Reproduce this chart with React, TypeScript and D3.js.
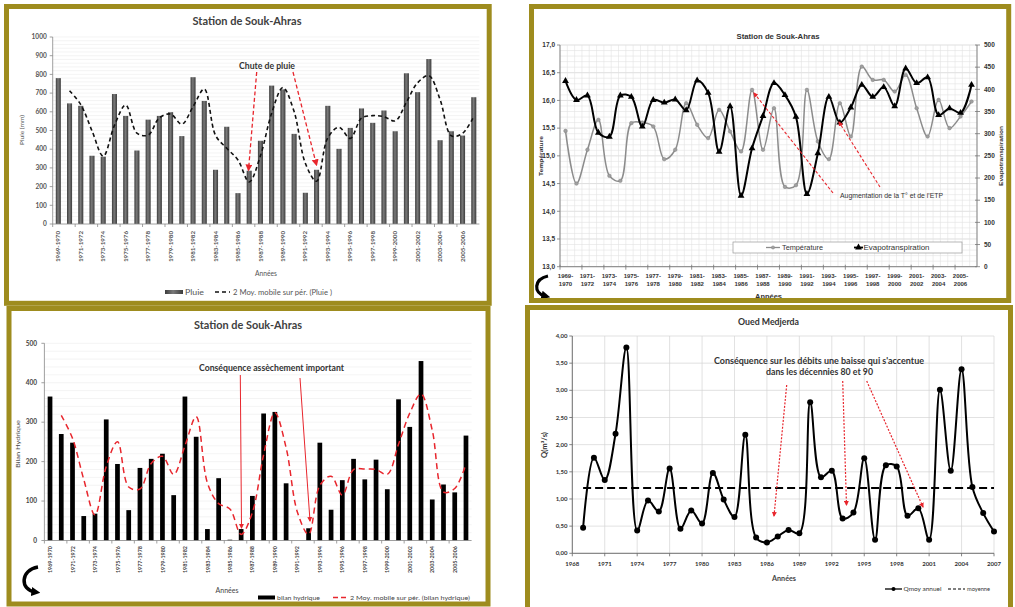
import React from "react";
import * as d3 from "d3";

// ---------- DATA ----------
const seasons = ["1969-1970","1970-1971","1971-1972","1972-1973","1973-1974","1974-1975","1975-1976","1976-1977","1977-1978","1978-1979","1979-1980","1980-1981","1981-1982","1982-1983","1983-1984","1984-1985","1985-1986","1986-1987","1987-1988","1988-1989","1989-1990","1990-1991","1991-1992","1992-1993","1993-1994","1994-1995","1995-1996","1996-1997","1997-1998","1998-1999","1999-2000","2000-2001","2001-2002","2002-2003","2003-2004","2004-2005","2005-2006","2006-2007"];

// Panel 1 : Pluie (mm)
const pluie = [780,645,632,365,360,695,578,393,558,578,598,470,785,658,290,520,165,285,445,740,720,482,167,290,632,402,514,618,541,607,496,806,705,882,448,496,473,678];
const pluieMoy = [null,712.5,638.5,498.5,362.5,527.5,636.5,485.5,475.5,568,588,534,627.5,721.5,474,405,342.5,225,365,592.5,730,601,324.5,228.5,461,517,458,566,579.5,574,551.5,651,755.5,793.5,665,472,484.5,575.5];
const pluieTicks = [0,100,200,300,400,500,600,700,800,900,1000];

// Panel 2 : Température (°C) & Evapotranspiration (mm)
const temperature = [15.45,14.50,15.11,15.65,14.64,14.55,15.59,15.60,15.53,14.94,15.11,15.95,15.56,15.32,15.83,15.44,15.08,16.19,15.11,15.86,14.44,14.47,16.19,15.26,14.94,15.95,15.35,16.61,16.37,16.37,16.16,16.46,15.86,15.35,16.01,15.50,15.71,15.98];
const etp = [419,376,386,302,293,386,383,316,376,370,377,353,420,392,259,362,160,267,340,414,387,338,164,256,383,325,359,410,383,405,362,447,414,427,342,357,347,410];
const tempTicks = [13.0,13.5,14.0,14.5,15.0,15.5,16.0,16.5,17.0];
const etpTicks = [0,50,100,150,200,250,300,350,400,450,500];

// Panel 3 : Bilan hydrique
const bilan = [365,270,248,62,68,307,194,77,184,207,220,115,365,263,29,158,2,29,113,322,326,145,0,31,248,78,153,207,155,205,130,358,288,455,104,142,122,266];
const bilanMoy = [null,317.5,259,155,65,187.5,250.5,135.5,130.5,195.5,213.5,167.5,240,314,146,93.5,80,15.5,71,217.5,324,235.5,72.5,15.5,139.5,163,115.5,180,181,180,167.5,244,323,371.5,279.5,123,132,194];
const bilanTicks = [0,100,200,300,400,500];

// Panel 4 : Oued Medjerda, débits
const qYears = [1969,1970,1971,1972,1973,1974,1975,1976,1977,1978,1979,1980,1981,1982,1983,1984,1985,1986,1987,1988,1989,1990,1991,1992,1993,1994,1995,1996,1997,1998,1999,2000,2001,2002,2003,2004,2005,2006,2007];
const qAnnuel = [0.47,1.76,1.35,2.20,3.79,0.42,0.97,0.77,1.56,0.45,0.79,0.55,1.48,0.99,0.67,2.18,0.29,0.20,0.31,0.43,0.37,2.78,1.40,1.52,0.64,0.75,1.75,0.25,1.62,1.60,0.69,0.83,0.25,3.01,1.52,3.39,1.22,0.74,0.40];
const qMoyenneYears = [1969,2007];
const qMoyenne = [1.2,1.2];
const qYTicks = [0,0.5,1,1.5,2,2.5,3,3.5,4];
const qXTicks = [1968,1971,1974,1977,1980,1983,1986,1989,1992,1995,1998,2001,2004,2007];

// ---------- STYLE ----------
const GOLD = "#9e8c1e";
const FC = "Lato, 'Open Sans', 'DejaVu Sans', sans-serif";
const FA = "'Liberation Sans', Arial, sans-serif";
const RED = "#e8262d";

type TP = { x:number; y:number; s?:number; w?:any; f?:string; a?:any; len?:number; fam?:string; rot?:number; dy?:string; children:any };
function T({x,y,s=7,w="normal",f="#444",a="start",len,fam=FC,rot,dy,children}:TP){
  const p:any = { fontSize:s, fontWeight:w, fill:f, textAnchor:a, fontFamily:fam, dy };
  if (len) { p.textLength = len; p.lengthAdjust = "spacingAndGlyphs"; }
  if (rot !== undefined) return <text transform={`translate(${x},${y}) rotate(${rot})`} {...p}>{children}</text>;
  return <text x={x} y={y} {...p}>{children}</text>;
}

const smooth = d3.line<[number,number]>().x(d=>d[0]).y(d=>d[1]).curve(d3.curveCatmullRom.alpha(0.5));
const fr = (v:number,d:number)=>v.toFixed(d).replace(".",",");

// ---------- PANEL 1 ----------
function Panel1(){
  const x0=52.7, x1=479.4, yT=37, yB=224;
  const x = d3.scaleBand<string>().domain(seasons).range([x0,x1]).paddingInner(0.55).paddingOuter(0.275);
  const y = d3.scaleLinear().domain([0,1000]).range([yB,yT]);
  const cx = (i:number)=> (x(seasons[i]) as number) + x.bandwidth()/2;
  const step = x.step();
  const pts = pluieMoy.map((v,i)=> v==null? null : [cx(i), y(v)] as [number,number]).filter(Boolean) as [number,number][];
  return <g>
    {d3.range(20,1001,20).map(g=> <line key={g} x1={x0} x2={x1} y1={y(g)} y2={y(g)} stroke="#ededed" strokeWidth={0.6}/>)}
    {pluie.map((v,i)=> <rect key={i} x={x(seasons[i])} y={y(v)} width={x.bandwidth()} height={yB-y(v)} fill="url(#gBar)"/>)}
    <path d={smooth(pts)!} fill="none" stroke="#111" strokeWidth={1.6} strokeDasharray="4,3"/>
    <line x1={x0} x2={x0} y1={yT} y2={yB} stroke="#888" strokeWidth={0.8}/>
    <line x1={x0} x2={x1} y1={yB} y2={yB} stroke="#888" strokeWidth={0.8}/>
    {pluieTicks.map(t=> <g key={t}>
      <line x1={x0-3} x2={x0} y1={y(t)} y2={y(t)} stroke="#888" strokeWidth={0.8}/>
      <T x={x0-6} y={y(t)} dy="0.35em" s={6.5} w="bold" f="#555" a="end">{t}</T>
    </g>)}
    {seasons.map((s,i)=> i%2===0 ? <g key={s}>
      <line x1={x0+i*step} x2={x0+i*step} y1={yB} y2={yB+3} stroke="#888" strokeWidth={0.8}/>
      <T x={cx(i)} y={yB+7} rot={-90} a="end" dy="0.35em" s={6} w="bold" f="#555" len={31}>{s}</T>
    </g> : null)}
    <T x={247} y={25} s={11} w="bold" f="#404040" a="middle" len={109}>Station de Souk-Ahras</T>
    <T x={24} y={130} rot={-90} a="middle" s={6} f="#555" len={30}>Pluie (mm)</T>
    <T x={266} y={276} s={7} f="#555" a="middle" len={22}>Années</T>
    <rect x={165} y={290} width={18} height={4} fill="url(#gBar)"/>
    <T x={185} y={294.5} s={7} f="#555" len={19}>Pluie</T>
    <line x1={215} x2={230} y1={292} y2={292} stroke="#111" strokeWidth={1.5} strokeDasharray="4,3"/>
    <T x={233} y={294.5} s={7} f="#555" len={99}>2 Moy. mobile sur pér. (Pluie )</T>
    <T x={267} y={68.5} s={8.5} w="bold" f="#333" a="middle" len={56}>Chute de pluie</T>
    <line x1={256.7} y1={72} x2={248.5} y2={170} stroke={RED} strokeWidth={1.3} strokeDasharray="4,2.5" markerEnd="url(#arrRed)"/>
    <line x1={293} y1={72} x2={316.5} y2={165} stroke={RED} strokeWidth={1.3} strokeDasharray="4,2.5" markerEnd="url(#arrRed)"/>
  </g>;
}

// ---------- PANEL 2 ----------
function Panel2(){
  const x0=560, x1=977, yT=45, yB=266.7;
  const x = d3.scaleBand<string>().domain(seasons).range([x0,x1]);
  const step = x.step();
  const cx = (i:number)=> (x(seasons[i]) as number) + step/2;
  const yL = d3.scaleLinear().domain([13,17]).range([yB,yT]);
  const yR = d3.scaleLinear().domain([0,500]).range([yB,yT]);
  const tPts = temperature.map((v,i)=>[cx(i), yL(v)] as [number,number]);
  const ePts = etp.map((v,i)=>[cx(i), yR(v)] as [number,number]);
  const tri = d3.symbol(d3.symbolTriangle, 20)()!;
  const vg = d3.range(0,58).map(k=> x0 + k*(x1-x0)/57);
  return <g>
    {d3.range(0,41).map(k=> { const v=13+k*0.1; return <line key={"h"+k} x1={x0} x2={x1} y1={yL(v)} y2={yL(v)} stroke={k%5===0?"#c9c9c9":"#e2e2e2"} strokeWidth={0.6}/>; })}
    {vg.map((v,k)=> <line key={"v"+k} x1={v} x2={v} y1={yT} y2={yB} stroke="#e2e2e2" strokeWidth={0.6}/>)}
    <line x1={x0} x2={x0} y1={yT} y2={yB} stroke="#777" strokeWidth={0.9}/>
    <line x1={x1} x2={x1} y1={yT} y2={yB} stroke="#777" strokeWidth={0.9}/>
    <line x1={x0} x2={x1} y1={yB} y2={yB} stroke="#777" strokeWidth={0.9}/>
    {tempTicks.map(t=> <g key={t}>
      <line x1={x0-3} x2={x0} y1={yL(t)} y2={yL(t)} stroke="#777" strokeWidth={0.8}/>
      <T x={555} y={yL(t)} dy="0.35em" s={6.5} w="bold" f="#333" a="end" fam={FA}>{fr(t,1)}</T>
    </g>)}
    {etpTicks.map(t=> <g key={t}>
      <line x1={x1-2} x2={x1+3} y1={yR(t)} y2={yR(t)} stroke="#777" strokeWidth={0.8}/>
      <T x={984} y={yR(t)} dy="0.35em" s={6.5} w="bold" f="#333" fam={FA}>{t}</T>
    </g>)}
    {seasons.map((s,i)=> i%2===0 ? <g key={s}>
      <line x1={x0+i*step} x2={x0+i*step} y1={yB-2} y2={yB+3} stroke="#777" strokeWidth={0.8}/>
      <T x={cx(i)} y={278} s={6} w="bold" f="#333" a="middle" fam={FA}>{s.slice(0,5)}</T>
      <T x={cx(i)} y={285.5} s={6} w="bold" f="#333" a="middle" fam={FA}>{s.slice(5)}</T>
    </g> : null)}
    <path d={smooth(tPts)!} fill="none" stroke="#8c8c8c" strokeWidth={1.5}/>
    {tPts.map((p,i)=> <circle key={i} cx={p[0]} cy={p[1]} r={1.8} fill="#a0a0a0" stroke="#808080" strokeWidth={0.5}/>)}
    <path d={smooth(ePts)!} fill="none" stroke="#000" strokeWidth={2}/>
    {ePts.map((p,i)=> <path key={i} d={tri} transform={`translate(${p[0]},${p[1]})`} fill="#000"/>)}
    <T x={778} y={39} s={8} w="bold" f="#333" a="middle" fam={FA} len={83}>Station de Souk-Ahras</T>
    <T x={543} y={156} rot={-90} a="middle" s={6} w="bold" f="#333" fam={FA} len={40}>Température</T>
    <T x={1003} y={156} rot={-90} a="middle" s={6} w="bold" f="#333" fam={FA} len={60}>Evapotranspiration</T>
    <T x={755} y={299} s={6.5} w="bold" f="#333" fam={FA} len={27}>Années</T>
    <rect x={733} y={242} width={229} height={11} fill="#fff" stroke="#999" strokeWidth={0.7}/>
    <line x1={766} x2={780} y1={247.5} y2={247.5} stroke="#8c8c8c" strokeWidth={1.3}/>
    <circle cx={773} cy={247.5} r={1.6} fill="#a0a0a0" stroke="#808080" strokeWidth={0.5}/>
    <T x={782} y={250} s={6.5} f="#333" fam={FA} len={41}>Température</T>
    <line x1={854} x2={863} y1={247.5} y2={247.5} stroke="#000" strokeWidth={1.8}/>
    <path d={tri} transform="translate(858.5,247.5)" fill="#000"/>
    <T x={863.5} y={250} s={6.5} f="#333" fam={FA} len={66}>Evapotranspiration</T>
    <T x={840} y={198} s={6.5} f="#333" fam={FA} len={103}>Augmentation de la T° et de l'ETP</T>
    <line x1={833} y1={193} x2={754} y2={93} stroke={RED} strokeWidth={1.1} strokeDasharray="3,2" markerEnd="url(#arrRedS)"/>
    <line x1={880} y1={187} x2={839} y2={122} stroke={RED} strokeWidth={1.1} strokeDasharray="3,2" markerEnd="url(#arrRedS)"/>
    <path d="M548,276 C534,279 533,293 545,296" fill="none" stroke="#000" strokeWidth={3.2} markerEnd="url(#arrBlk)"/>
  </g>;
}

// ---------- PANEL 3 ----------
function Panel3(){
  const x0=44.4, x1=471.6, yT=343.3, yB=540.5;
  const x = d3.scaleBand<string>().domain(seasons).range([x0,x1]).paddingInner(0.58).paddingOuter(0.29);
  const y = d3.scaleLinear().domain([0,500]).range([yB,yT]);
  const step = x.step();
  const cx = (i:number)=> (x(seasons[i]) as number) + x.bandwidth()/2;
  const pts = bilanMoy.map((v,i)=> v==null? null : [cx(i), y(v)] as [number,number]).filter(Boolean) as [number,number][];
  return <g>
    {d3.range(20,501,20).map(g=> <line key={g} x1={x0} x2={x1} y1={y(g)} y2={y(g)} stroke="#ececec" strokeWidth={0.6}/>)}
    {bilan.map((v,i)=> <rect key={i} x={x(seasons[i])} y={y(v)} width={x.bandwidth()} height={yB-y(v)} fill="#000"/>)}
    <path d={smooth(pts)!} fill="none" stroke={RED} strokeWidth={1.5} strokeDasharray="6,4"/>
    <line x1={x0} x2={x0} y1={yT} y2={yB} stroke="#888" strokeWidth={0.8}/>
    <line x1={x0} x2={x1} y1={yB} y2={yB} stroke="#888" strokeWidth={0.8}/>
    {bilanTicks.map(t=> <g key={t}>
      <line x1={x0-3} x2={x0} y1={y(t)} y2={y(t)} stroke="#888" strokeWidth={0.8}/>
      <T x={37} y={y(t)} dy="0.35em" s={6.5} w="bold" f="#444" a="end">{t}</T>
    </g>)}
    {seasons.map((s,i)=> i%2===0 ? <g key={s}>
      <line x1={x0+i*step} x2={x0+i*step} y1={yB} y2={yB+3} stroke="#888" strokeWidth={0.8}/>
      <T x={cx(i)} y={546} rot={-90} a="end" dy="0.35em" s={6} w="bold" f="#444" len={27}>{s}</T>
    </g> : null)}
    <T x={248} y={329} s={11} w="bold" f="#404040" a="middle" len={108}>Station de Souk-Ahras</T>
    <T x={20} y={444} rot={-90} a="middle" s={6} f="#444" len={48}>Bilan Hydrique</T>
    <T x={227} y={593} s={7} f="#444" a="middle" len={23}>Années</T>
    <rect x={258} y={595.5} width={17} height={4} fill="#000"/>
    <T x={277} y={599.5} s={6.5} f="#444" len={43}>bilan hydrique</T>
    <line x1={333} x2={348} y1={597.5} y2={597.5} stroke={RED} strokeWidth={1.4} strokeDasharray="5,3"/>
    <T x={350} y={599.5} s={6.5} f="#444" len={120}>2 Moy. mobile sur pér. (bilan hydrique)</T>
    <T x={199} y={370.5} s={8.5} w="bold" f="#333" len={145}>Conséquence  assèchement important</T>
    <line x1={240.3} y1={375} x2={241.5} y2={528} stroke={RED} strokeWidth={1} markerEnd="url(#arrRedS)"/>
    <line x1={300} y1={378} x2={310} y2={521} stroke={RED} strokeWidth={1} markerEnd="url(#arrRedS)"/>
    <path d="M38,567 C20,570 20,590 35,592" fill="none" stroke="#000" strokeWidth={3.5} markerEnd="url(#arrBlk)"/>
  </g>;
}

// ---------- PANEL 4 ----------
function Panel4(){
  const x0=572.3, x1=994, yT=336, yB=553.3;
  const x = d3.scaleLinear().domain([1968,2007]).range([x0,x1]);
  const y = d3.scaleLinear().domain([0,4]).range([yB,yT]);
  const pts = qYears.map((yr,i)=> [x(yr), y(qAnnuel[i])] as [number,number]);
  return <g>
    {qYTicks.map(t=> <line key={"h"+t} x1={x0} x2={x1} y1={y(t)} y2={y(t)} stroke="#d4d4d4" strokeWidth={0.7}/>)}
    {qXTicks.map(t=> <line key={"v"+t} x1={x(t)} x2={x(t)} y1={yT} y2={yB} stroke="#d4d4d4" strokeWidth={0.7}/>)}
    <line x1={x0} x2={x0} y1={yT} y2={yB} stroke="#666" strokeWidth={0.9}/>
    <line x1={x0} x2={x1} y1={yB} y2={yB} stroke="#666" strokeWidth={0.9}/>
    {qYTicks.map(t=> <g key={t}>
      <line x1={x0-3} x2={x0} y1={y(t)} y2={y(t)} stroke="#666" strokeWidth={0.8}/>
      <T x={567.5} y={y(t)} dy="0.35em" s={6} w="bold" f="#333" a="end">{fr(t,2)}</T>
    </g>)}
    {qXTicks.map(t=> <g key={t}>
      <line x1={x(t)} x2={x(t)} y1={yB} y2={yB+3} stroke="#666" strokeWidth={0.8}/>
      <T x={x(t)} y={565.5} s={6} w="bold" f="#333" a="middle">{t}</T>
    </g>)}
    <line x1={x(qMoyenneYears[0])} x2={x(qMoyenneYears[1])} y1={y(qMoyenne[0])} y2={y(qMoyenne[1])} stroke="#000" strokeWidth={2} strokeDasharray="8,4"/>
    <path d={smooth(pts)!} fill="none" stroke="#000" strokeWidth={2}/>
    {pts.map((p,i)=> <circle key={i} cx={p[0]} cy={p[1]} r={3} fill="#000"/>)}
    <T x={768.5} y={325} s={8.5} w="bold" f="#333" a="middle" len={61}>Oued Medjerda</T>
    <T x={547} y={445} rot={-90} a="middle" s={6.5} w="bold" f="#333" len={26}>Q(m³/s)</T>
    <T x={784} y={581} s={7.5} w="bold" f="#444" a="middle" len={24}>Années</T>
    <T x={819} y={363.5} s={8.5} w="bold" f="#333" a="middle" len={210}>Conséquence  sur les débits  une  baisse qui s'accentue</T>
    <T x={819.5} y={374.5} s={8.5} w="bold" f="#333" a="middle" len={107}>dans  les décennies 80 et 90</T>
    <line x1={786.7} y1={385} x2={774} y2={516} stroke={RED} strokeWidth={1.2} strokeDasharray="2,1.5" markerEnd="url(#arrRedS)"/>
    <line x1={842.7} y1={381} x2={846.5} y2={505} stroke={RED} strokeWidth={1.2} strokeDasharray="2,1.5" markerEnd="url(#arrRedS)"/>
    <line x1={866.7} y1={381} x2={923} y2={507} stroke={RED} strokeWidth={1.2} strokeDasharray="2,1.5" markerEnd="url(#arrRedS)"/>
    <line x1={885} x2={902} y1={589} y2={589} stroke="#000" strokeWidth={1.3}/>
    <circle cx={893.5} cy={589} r={2} fill="#000"/>
    <T x={903.5} y={590.5} s={5.5} f="#333" len={38}>Qmoy annuel</T>
    <line x1={948} x2={965} y1={589} y2={589} stroke="#000" strokeWidth={1.2} strokeDasharray="3,2"/>
    <T x={967} y={590.5} s={5.5} f="#333" len={23}>moyenne</T>
  </g>;
}

export default function App(){
  return <svg width={1015} height={607} viewBox="0 0 1015 607" style={{position:"absolute", left:0, top:0, background:"#fff"}}>
    <defs>
      <linearGradient id="gBar" x1="0" x2="1" y1="0" y2="0">
        <stop offset="0" stopColor="#3c3c3c"/>
        <stop offset="0.45" stopColor="#7a7a7a"/>
        <stop offset="1" stopColor="#3c3c3c"/>
      </linearGradient>
      <marker id="arrRed" viewBox="0 0 10 10" refX="8" refY="5" markerWidth="7" markerHeight="7" markerUnits="userSpaceOnUse" orient="auto">
        <path d="M0,0 L10,5 L0,10 z" fill={RED}/>
      </marker>
      <marker id="arrRedS" viewBox="0 0 10 10" refX="8" refY="5" markerWidth="5" markerHeight="5" markerUnits="userSpaceOnUse" orient="auto">
        <path d="M0,0 L10,5 L0,10 z" fill={RED}/>
      </marker>
      <marker id="arrBlk" viewBox="0 0 10 10" refX="4" refY="5" markerWidth="9" markerHeight="9" markerUnits="userSpaceOnUse" orient="auto">
        <path d="M0,0 L10,5 L0,10 z" fill="#000"/>
      </marker>
    </defs>
    <rect x={0} y={0} width={1015} height={607} fill="#fff"/>
    <Panel1/>
    <Panel2/>
    <Panel3/>
    <Panel4/>
    <rect x={6.5} y={6.5} width={482.7} height={296.8} fill="none" stroke={GOLD} strokeWidth={5}/>
    <rect x={531.5} y={6.5} width={477.2} height={294} fill="none" stroke={GOLD} strokeWidth={5}/>
    <rect x={9} y={308.5} width={479} height={295.5} fill="none" stroke={GOLD} strokeWidth={5}/>
    <rect x={527.5} y={307.5} width={483} height={303} fill="none" stroke={GOLD} strokeWidth={5}/>
  </svg>;
}
